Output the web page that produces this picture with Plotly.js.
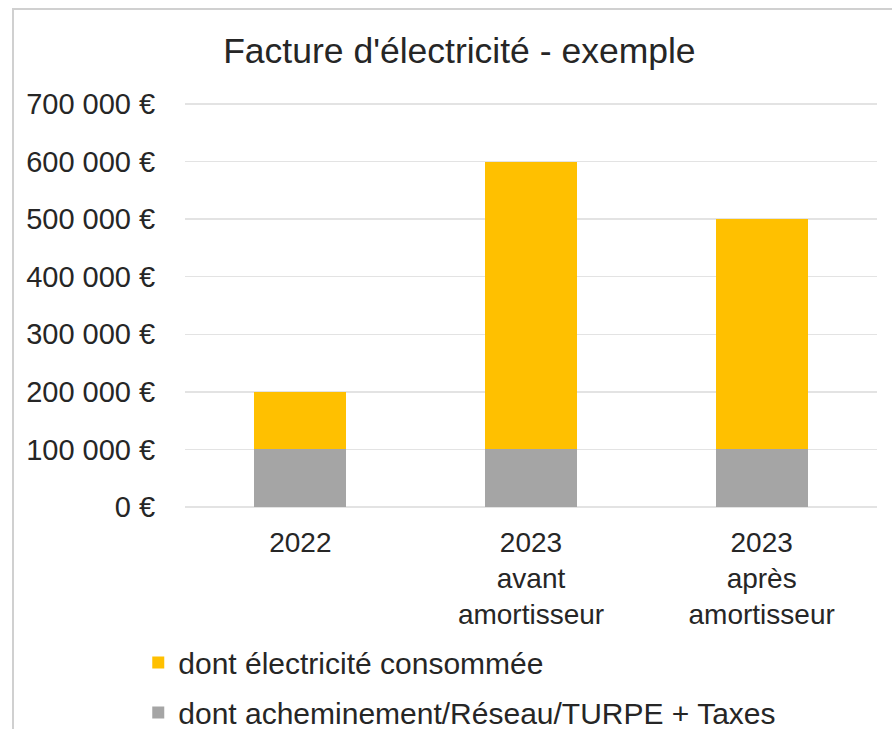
<!DOCTYPE html>
<html>
<head>
<meta charset="utf-8">
<script src="https://cdn.plot.ly/plotly-3.0.1.min.js"></script>
<style>
html,body{margin:0;padding:0;background:#fff;}
#frame{position:absolute;left:12px;top:8px;width:880px;height:721px;border-left:2px solid #d0d0d0;border-top:2px solid #d0d0d0;pointer-events:none;z-index:5;}
#chart{position:absolute;left:0;top:0;width:892px;height:729px;}
</style>
</head>
<body>
<div id="chart"></div>
<div id="frame"></div>
<script>
const categories = ["2022", "2023<br>avant<br>amortisseur", "2023<br>après<br>amortisseur"];
const reseauTaxes = [100000, 100000, 100000];
const electriciteConsommee = [100000, 500000, 400000];
const seriesNames = ["dont acheminement/Réseau/TURPE + Taxes", "dont électricité consommée"];
const yTicks = [0, 100000, 200000, 300000, 400000, 500000, 600000, 700000];
const yTickText = yTicks.map(v => String(v).replace(/\B(?=(\d{3})+(?!\d))/g, " ") + " €");

const font = "Liberation Sans, Arial, sans-serif";
const textColor = "#262626";

const traces = [
  {type: "bar", x: categories, y: reseauTaxes, name: seriesNames[0], legendgroup: "b", legendrank: 2,
   marker: {color: "#A5A5A5"}},
  {type: "bar", x: categories, y: electriciteConsommee, name: seriesNames[1], legendgroup: "a", legendrank: 1,
   marker: {color: "#FFC000"}}
];

const layout = {
  width: 892, height: 729,
  barmode: "stack",
  bargap: 0.6,
  paper_bgcolor: "#ffffff",
  plot_bgcolor: "#ffffff",
  margin: {l: 185, r: 15, t: 102, b: 222, autoexpand: false},
  font: {family: font, color: textColor, size: 28},
  title: {text: "Facture d'électricité - exemple", font: {family: font, size: 35.5, color: textColor},
          x: 0.515, xref: "container", xanchor: "center", y: 0.931, yref: "container", yanchor: "middle"},
  xaxis: {type: "category", automargin: false, tickangle: 0, tickfont: {size: 28, color: textColor},
          showgrid: false, showline: false, ticks: "outside", ticklen: 10, tickcolor: "rgba(0,0,0,0)"},
  yaxis: {range: [0, 703500], automargin: false, tickmode: "array", tickvals: yTicks, ticktext: yTickText,
          tickfont: {size: 29, color: textColor}, gridcolor: "#e3e3e3", gridwidth: 1.5,
          zeroline: true, zerolinecolor: "#e3e3e3", zerolinewidth: 1.5,
          showline: false, ticks: "outside", ticklen: 23, tickcolor: "rgba(0,0,0,0)"},
  showlegend: true,
  legend: {orientation: "v", traceorder: "grouped", tracegroupgap: 8,
           x: 0.155, xref: "container", xanchor: "left",
           y: 0.127, yref: "container", yanchor: "top",
           font: {size: 30, color: textColor}, itemwidth: 30}
};

Plotly.newPlot("chart", traces, layout, {displayModeBar: false, staticPlot: true});
</script>
</body>
</html>
